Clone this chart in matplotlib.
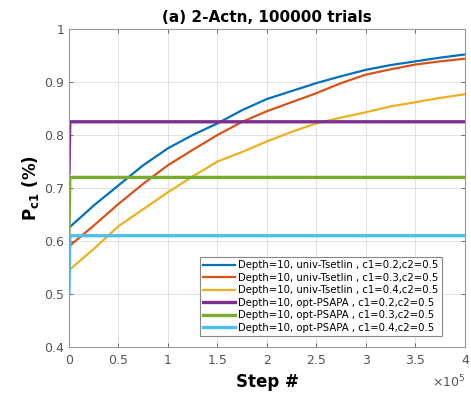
import numpy as np
import matplotlib.pyplot as plt
from matplotlib.ticker import FuncFormatter

steps = np.array([0, 0.25, 0.5, 0.75, 1.0, 1.25, 1.5, 1.75, 2.0,
                  2.25, 2.5, 2.75, 3.0, 3.25, 3.5, 3.75, 4.0]) * 1e5
tsetlin_c02 = [0.625, 0.667, 0.705, 0.743, 0.775, 0.800, 0.822, 0.847, 0.868,
               0.883, 0.898, 0.911, 0.923, 0.932, 0.939, 0.946, 0.952]
tsetlin_c03 = [0.590, 0.629, 0.670, 0.708, 0.743, 0.772, 0.800, 0.825, 0.845,
               0.862, 0.879, 0.898, 0.914, 0.924, 0.933, 0.939, 0.944]
tsetlin_c04 = [0.545, 0.585, 0.628, 0.660, 0.692, 0.722, 0.750, 0.768, 0.788,
               0.806, 0.822, 0.833, 0.843, 0.854, 0.862, 0.870, 0.877]

# opt-PSAPA: jumps from its start value to a flat level right after step 0
psapa_steps = np.array([0, 800, 4e5])
psapa_c02 = [0.728, 0.825, 0.825]
psapa_c03 = [0.617, 0.720, 0.720]
psapa_c04 = [0.500, 0.610, 0.610]

labels = [
    'Depth=10, univ-Tsetlin , c1=0.2,c2=0.5',
    'Depth=10, univ-Tsetlin , c1=0.3,c2=0.5',
    'Depth=10, univ-Tsetlin , c1=0.4,c2=0.5',
    'Depth=10, opt-PSAPA , c1=0.2,c2=0.5',
    'Depth=10, opt-PSAPA , c1=0.3,c2=0.5',
    'Depth=10, opt-PSAPA , c1=0.4,c2=0.5',
]
colors = ['#0072bd', '#d95319', '#edb120', '#7e2f8e', '#77ac30', '#4dbeee']

fig = plt.figure(figsize=(4.71, 3.95), dpi=100)
ax = fig.add_axes([0.1465, 0.1215, 0.8405, 0.805])

for y, c, lab in zip([tsetlin_c02, tsetlin_c03, tsetlin_c04], colors[:3], labels[:3]):
    ax.plot(steps, y, color=c, lw=1.6, label=lab)
for y, c, lab in zip([psapa_c02, psapa_c03, psapa_c04], colors[3:], labels[3:]):
    ax.plot(psapa_steps, y, color=c, lw=2.4, label=lab)

ax.set_xlim(0, 4e5)
ax.set_ylim(0.4, 1.0)
ax.set_xticks(np.arange(0, 4.01e5, 0.5e5))
ax.set_yticks(np.arange(0.4, 1.01, 0.1))
ax.xaxis.set_major_formatter(FuncFormatter(lambda v, p: '%g' % round(v / 1e5, 2)))
ax.yaxis.set_major_formatter(FuncFormatter(lambda v, p: '%g' % round(v, 2)))

ax.grid(True, color='#dddddd', lw=0.6)
ax.tick_params(direction='in', top=True, right=True, length=3, labelsize=9,
               colors='#555555', width=0.6)
ax.tick_params(axis='x', pad=5)
for s in ax.spines.values():
    s.set_color('#999999')
    s.set_linewidth(0.8)

# MATLAB style exponent below the right end of the x axis
ax.text(1.0, -0.11, r'$\times10^5$', transform=ax.transAxes, ha='right', va='center',
        fontsize=9, color='#555555')

ax.set_title('(a) 2-Actn, 100000 trials', fontsize=11, fontweight='bold', pad=5)
ax.set_xlabel('Step #', fontsize=12, fontweight='bold', labelpad=4)
ax.set_ylabel(r'P$_{\mathbf{c1}}$ (%)', fontsize=12, fontweight='bold', labelpad=2)

leg = ax.legend(loc='lower right', bbox_to_anchor=(0.942, 0.035), fontsize=7.3,
                handlelength=3.2, handletextpad=0.3, labelspacing=0.25,
                borderpad=0.3, fancybox=False, framealpha=1, borderaxespad=0)
leg.get_frame().set_edgecolor('#888888')
leg.get_frame().set_linewidth(0.8)

fig.savefig('out.png', dpi=100)
